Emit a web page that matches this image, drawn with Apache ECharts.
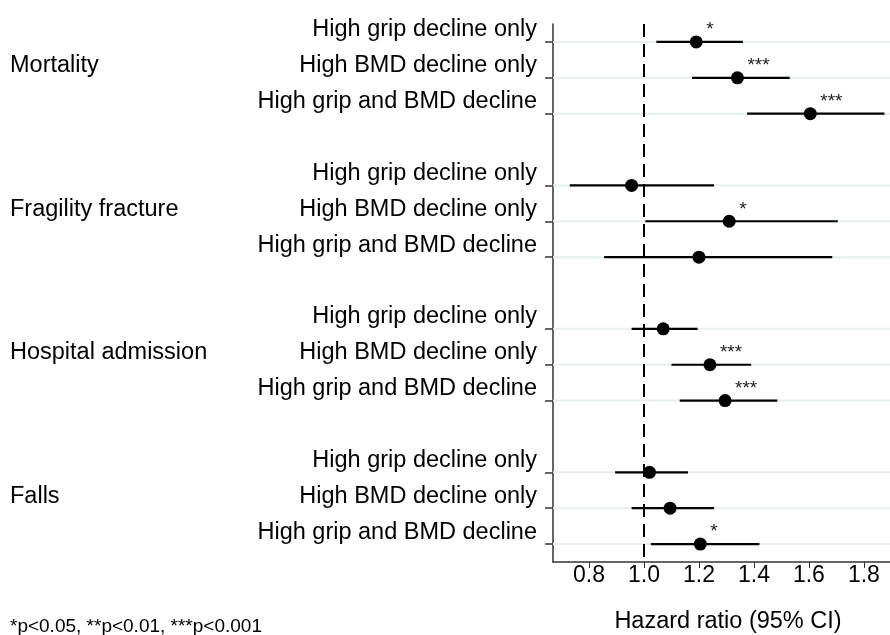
<!DOCTYPE html>
<html>
<head>
<meta charset="utf-8">
<script src="https://cdn.jsdelivr.net/npm/echarts@6/dist/echarts.min.js"></script>
<style>
html,body{margin:0;padding:0;background:#fff;}
#chart{width:890px;height:635px;}
</style>
</head>
<body>
<div id="chart"></div>
<script>
// ---- data ----
var groups = ["Mortality", "Fragility fracture", "Hospital admission", "Falls"];
var groupPos = [1, 5, 9, 13];
var rowLabels = [
  "High grip decline only", "High BMD decline only", "High grip and BMD decline",
  "High grip decline only", "High BMD decline only", "High grip and BMD decline",
  "High grip decline only", "High BMD decline only", "High grip and BMD decline",
  "High grip decline only", "High BMD decline only", "High grip and BMD decline"
];
var rowPos = [0, 1, 2, 4, 5, 6, 8, 9, 10, 12, 13, 14];
var hr  = [1.19, 1.34, 1.605, 0.955, 1.31, 1.20, 1.07, 1.24, 1.295, 1.02, 1.095, 1.205];
var lo  = [1.045, 1.175, 1.375, 0.73, 1.005, 0.855, 0.955, 1.10, 1.13, 0.895, 0.955, 1.025];
var hi  = [1.36, 1.53, 1.875, 1.255, 1.705, 1.685, 1.195, 1.39, 1.485, 1.16, 1.255, 1.42];
var sig = ["*", "***", "***", "", "*", "", "", "***", "***", "", "", "*"];
var xTicks = [0.8, 1.0, 1.2, 1.4, 1.6, 1.8];
var refValue = 1.0;
var footnote = "*p<0.05, **p<0.01, ***p<0.001";
var xTitle = "Hazard ratio (95% CI)";

var X_MIN = 0.669, X_MAX = 1.895;
var FONT = "'Liberation Sans', Arial, sans-serif";

var ciData = rowPos.map(function (p, i) { return [lo[i], hi[i], p]; });
var ptData = rowPos.map(function (p, i) { return [hr[i], p, sig[i]]; });
var gridData = rowPos.map(function (p) { return [X_MIN, X_MAX, p]; });

var chart = echarts.init(document.getElementById('chart'), null, {renderer: 'canvas'});
chart.setOption({
  backgroundColor: '#ffffff',
  animation: false,
  textStyle: {fontFamily: FONT},
  grid: {left: 553, right: 0, top: 24, bottom: 73, containLabel: false, outerBoundsMode: 'none'},
  xAxis: {
    type: 'value', min: X_MIN, max: X_MAX, position: 'bottom',
    name: xTitle, nameLocation: 'middle', nameGap: 48,
    nameTextStyle: {fontSize: 23.5, color: '#000', fontFamily: FONT, padding: [0, 0, 0, 13]},
    axisLine: {show: true, onZero: false, lineStyle: {color: '#333', width: 1.5}},
    axisTick: {show: true, length: 6, customValues: xTicks, lineStyle: {color: '#333', width: 1}},
    axisLabel: {customValues: xTicks, margin: 2, fontSize: 23, color: '#000', fontFamily: FONT,
      formatter: function (v) { return v.toFixed(1); }},
    splitLine: {show: false}
  },
  yAxis: [{
    type: 'value', inverse: true, min: -0.5, max: 14.5,
    axisLine: {show: true, onZero: false, lineStyle: {color: '#333', width: 1.5}},
    axisTick: {show: true, length: 8, customValues: rowPos, lineStyle: {color: '#333', width: 1.5}},
    axisLabel: {customValues: rowPos, margin: 16, fontSize: 23.5, color: '#000', fontFamily: FONT,
      verticalAlign: 'bottom',
      formatter: function (v) { var i = rowPos.indexOf(Math.round(v)); return i >= 0 ? rowLabels[i] : ''; }},
    splitLine: {show: false}
  }, {
    type: 'value', inverse: true, min: -0.5, max: 14.5, position: 'left',
    axisLine: {show: false, onZero: false}, axisTick: {show: false}, splitLine: {show: false},
    axisLabel: {customValues: groupPos, margin: 543, align: 'left', verticalAlign: 'bottom',
      fontSize: 23.5, color: '#000', fontFamily: FONT,
      formatter: function (v) { var i = groupPos.indexOf(Math.round(v)); return i >= 0 ? groups[i] : ''; }}
  }],
  series: [{
    type: 'custom', name: 'grid', silent: true, z: 1,
    data: gridData,
    encode: {x: [0, 1], y: 2},
    renderItem: function (params, api) {
      var a = api.coord([api.value(0), api.value(2)]);
      var b = api.coord([api.value(1), api.value(2)]);
      return {type: 'line', shape: {x1: a[0], y1: a[1], x2: b[0], y2: b[1]},
        style: {stroke: '#e8eef0', lineWidth: 2}};
    }
  }, {
    type: 'custom', name: 'ci', silent: true, z: 3,
    data: ciData,
    encode: {x: [0, 1], y: 2},
    renderItem: function (params, api) {
      var a = api.coord([api.value(0), api.value(2)]);
      var b = api.coord([api.value(1), api.value(2)]);
      return {type: 'line', shape: {x1: a[0], y1: a[1], x2: b[0], y2: b[1]},
        style: {stroke: '#000', lineWidth: 2.2}};
    }
  }, {
    type: 'scatter', name: 'hr', z: 4,
    data: ptData,
    symbol: 'circle', symbolSize: 13,
    itemStyle: {color: '#000', opacity: 1},
    label: {show: true, position: [16.5, -5.5], align: 'left', verticalAlign: 'middle',
      fontSize: 19, color: '#222', fontFamily: FONT,
      formatter: function (p) { return p.value[2]; }},
    markLine: {
      silent: true, symbol: 'none', z: 2,
      label: {show: false},
      lineStyle: {color: '#000', type: [13, 7], width: 2, opacity: 1},
      data: [{xAxis: refValue}]
    }
  }],
  graphic: [{
    type: 'text', left: 10, top: 617,
    style: {text: footnote, fontSize: 19, fill: '#000', fontFamily: FONT}
  }]
});
</script>
</body>
</html>
